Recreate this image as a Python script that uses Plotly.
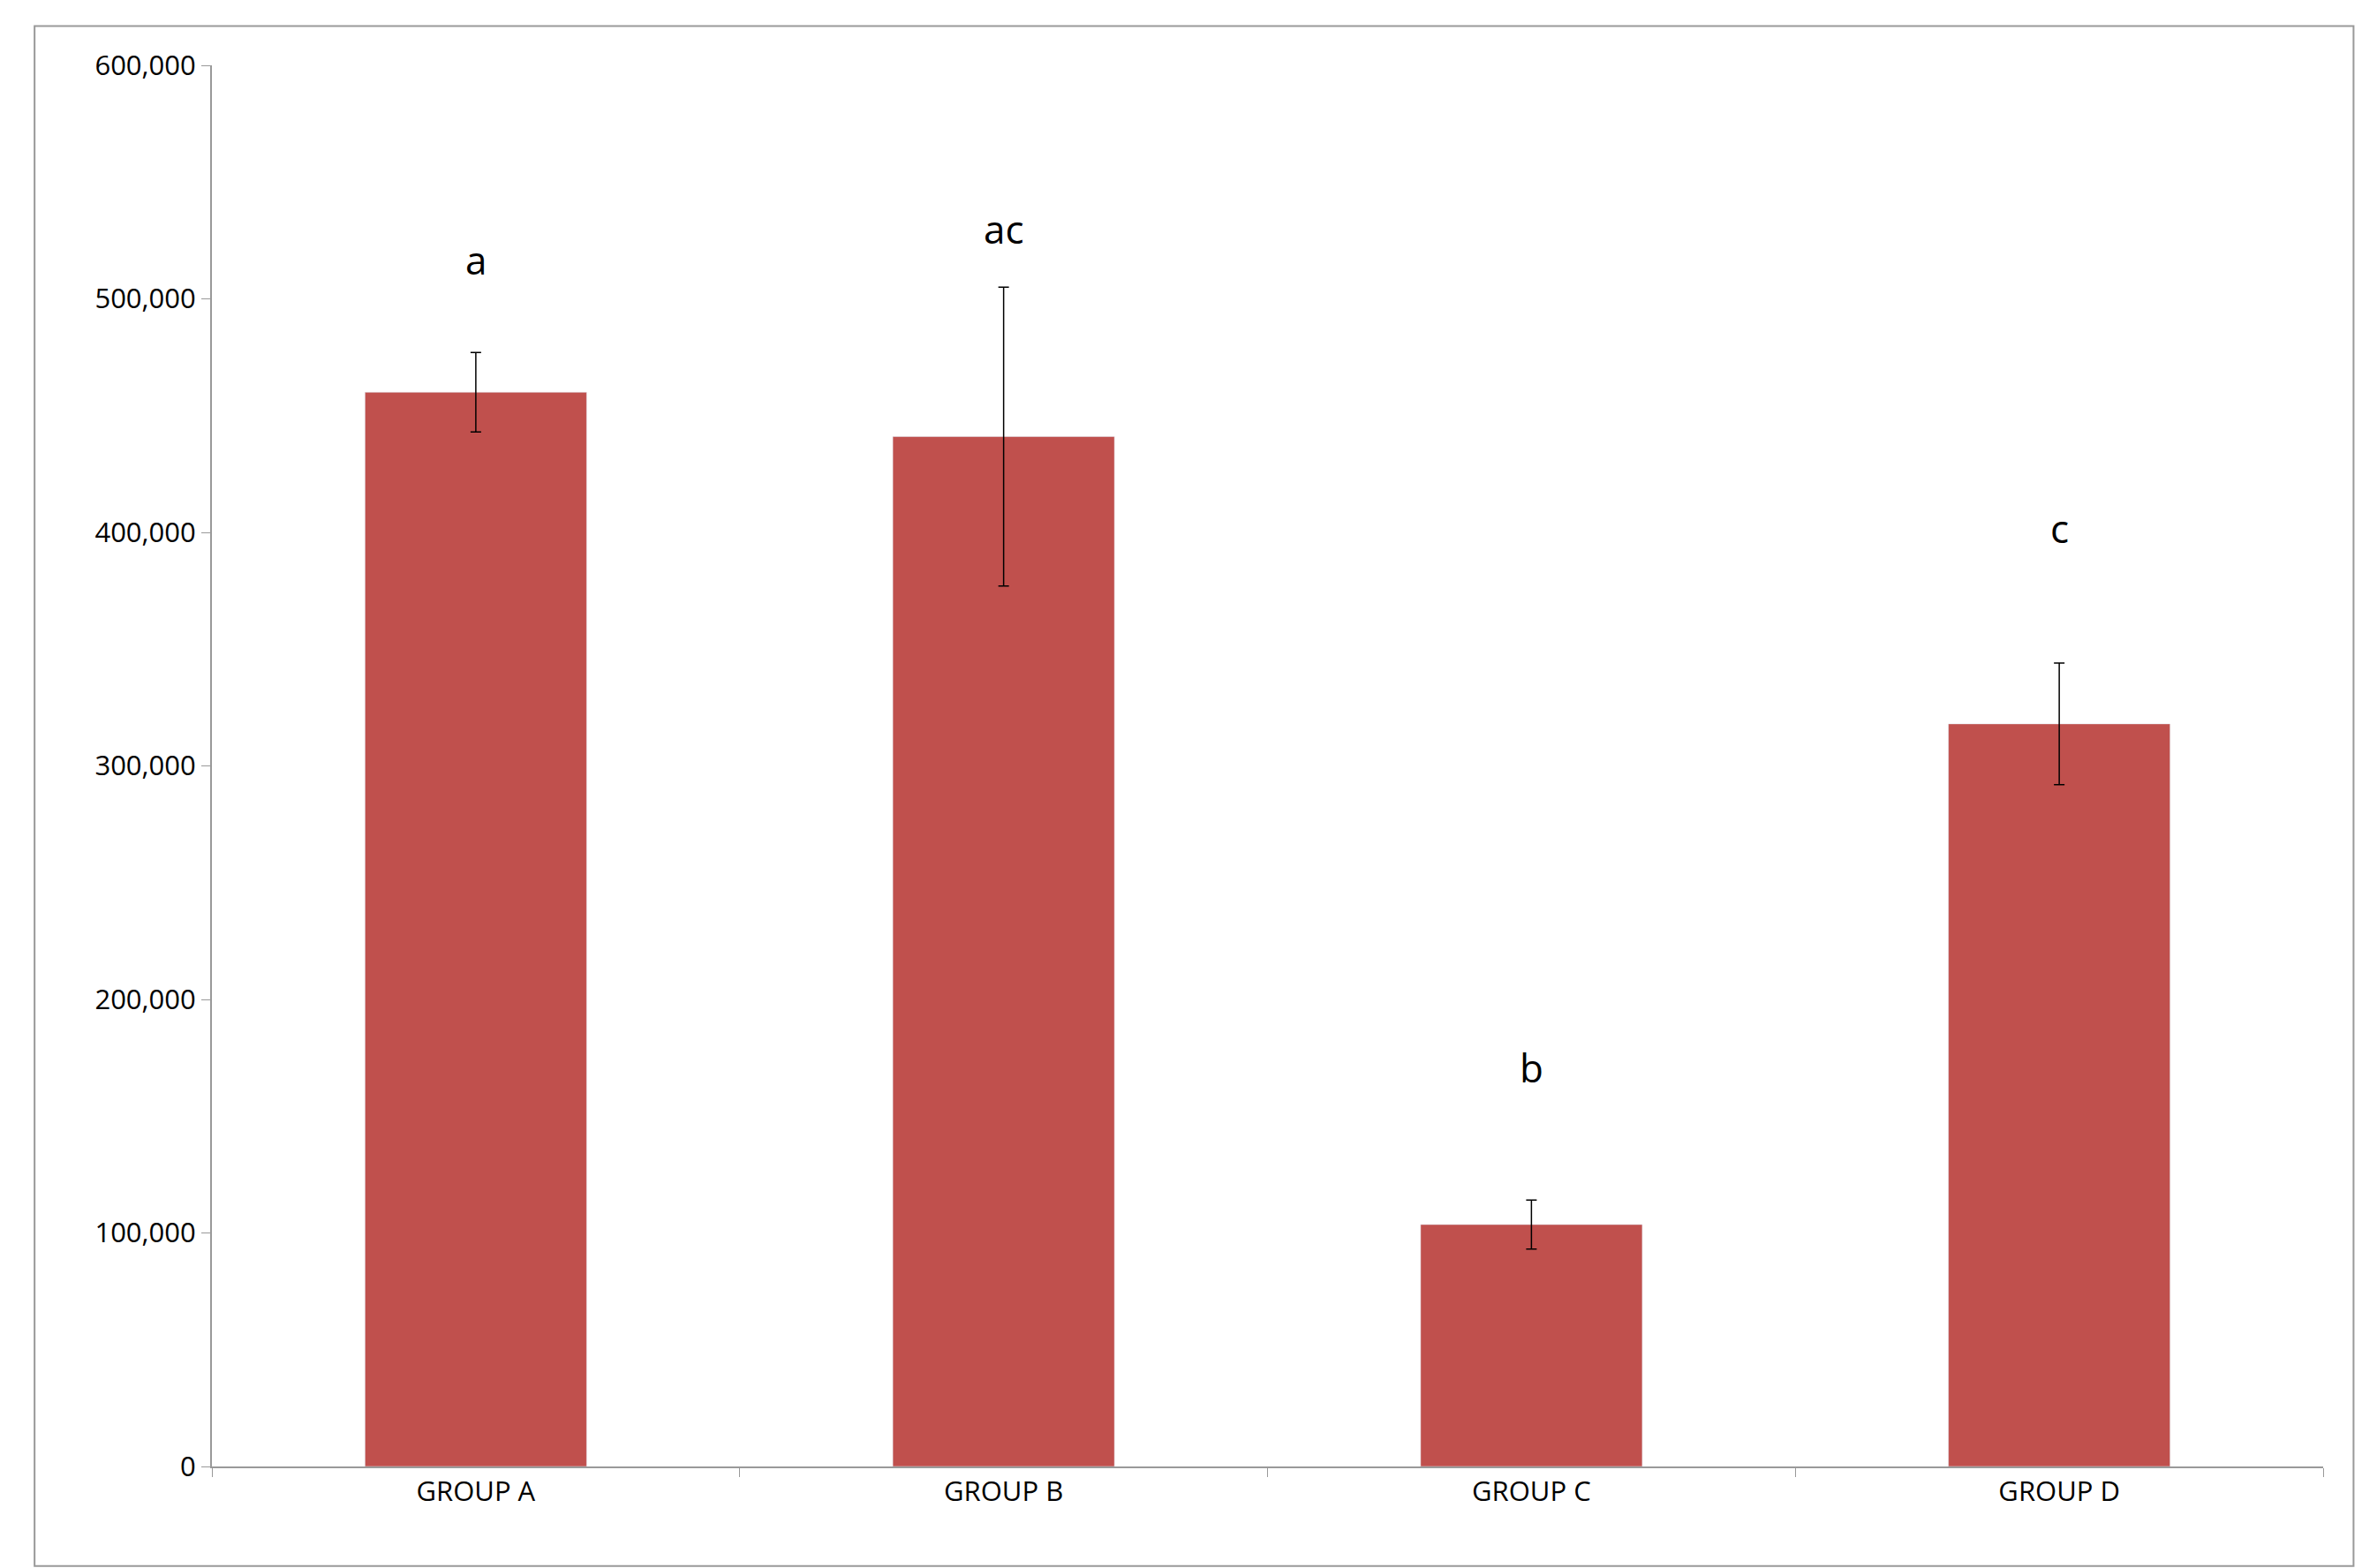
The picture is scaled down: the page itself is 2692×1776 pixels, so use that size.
import plotly.graph_objects as go

groups = ["GROUP A", "GROUP B", "GROUP C", "GROUP D"]
values = [460000, 441000, 103600, 318000]
errors = [17000, 64000, 10500, 26000]
letters = ["a", "ac", "b", "c"]
letter_y = [517000, 530000, 171000, 402000]
yticks = [0, 100000, 200000, 300000, 400000, 500000, 600000]
ytext = ["0", "100,000", "200,000", "300,000", "400,000", "500,000", "600,000"]

fig = go.Figure(go.Bar(
    x=groups, y=values, width=0.42, marker_color="#C0504D",
    error_y=dict(type="data", array=errors, color="black", thickness=1.5, width=6),
))
for g, l, ly in zip(groups, letters, letter_y):
    fig.add_annotation(x=g, y=ly, text=l, showarrow=False,
                       font=dict(size=44, color="black", family="Open Sans"))

fig.update_layout(
    width=2692, height=1776, plot_bgcolor="white", paper_bgcolor="white",
    margin=dict(l=232, r=69, t=66, b=123), showlegend=False,
    font=dict(family="Open Sans", size=31, color="black"),
    shapes=[dict(type="rect", xref="paper", yref="paper", x0=-0.084, x1=1.0144,
                 y0=-0.071, y1=1.028, line=dict(color="#999999", width=2))],
)
fig.update_xaxes(type="category", tickson="boundaries", ticks="outside", ticklen=10,
                 showline=True, linecolor="#999999", linewidth=2, tickcolor="#999999",
                 range=[-0.5, 3.5], showgrid=False)
fig.update_yaxes(range=[0, 600000], tickvals=yticks, ticktext=ytext, ticks="outside",
                 ticklen=10, showline=True, linecolor="#999999", linewidth=2,
                 tickcolor="#999999", showgrid=False, zeroline=False)
fig.write_html("out.html")
